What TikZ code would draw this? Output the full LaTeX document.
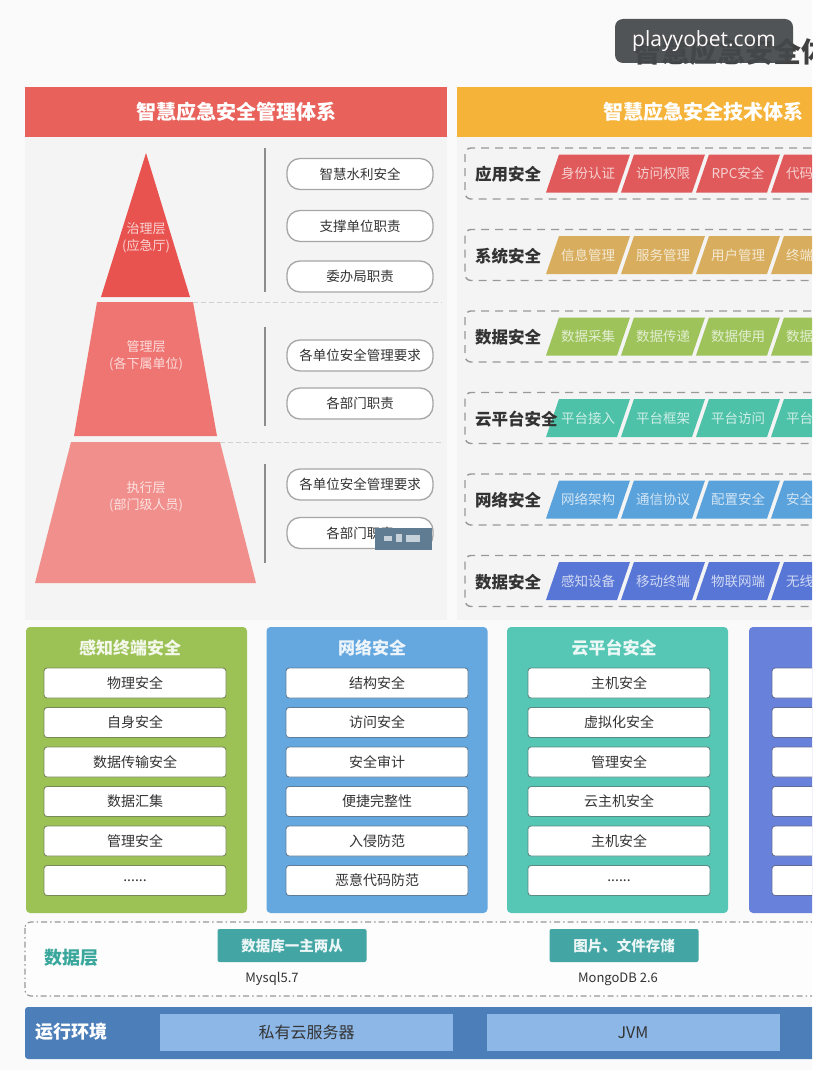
\documentclass[tikz,border=0pt]{standalone}
\usepackage{fontspec}
\setmainfont{Noto Sans CJK SC}
\newfontfamily\wmfont{Open Sans}
\newcommand\mysixdots{......}
\definecolor{pageBg}{HTML}{FAFAFA}
\definecolor{panelBg}{HTML}{F4F4F4}
\definecolor{hdrRed}{HTML}{E8615B}
\definecolor{hdrYel}{HTML}{F5B33A}
\definecolor{pyrA}{HTML}{E8524F}
\definecolor{pyrB}{HTML}{EE7572}
\definecolor{pyrC}{HTML}{F18F8C}
\definecolor{rowA}{HTML}{E05A5B}
\definecolor{rowB}{HTML}{D8AE5E}
\definecolor{rowC}{HTML}{9DC35A}
\definecolor{rowD}{HTML}{4EC2A8}
\definecolor{rowE}{HTML}{5AA2DB}
\definecolor{rowF}{HTML}{5876D5}
\definecolor{colG}{HTML}{9CC155}
\definecolor{colB}{HTML}{65A8E0}
\definecolor{colT}{HTML}{57C7B5}
\definecolor{colI}{HTML}{6882DC}
\definecolor{dbTeal}{HTML}{43A6A4}
\definecolor{dbText}{HTML}{3AA79C}
\definecolor{runBlue}{HTML}{4C7FB9}
\definecolor{runInner}{HTML}{8DB7E6}
\definecolor{wm}{HTML}{45484B}
\definecolor{wmBlue}{HTML}{5F7C92}
\definecolor{txt}{HTML}{333333}
\begin{document}
\begin{tikzpicture}[x=1pt,y=-1pt,
  hdrtxt/.style={text=white, font=\fontsize{20}{20}\selectfont\bfseries, inner sep=0pt},
  pill/.style={draw=black!35, line width=1.3pt, fill=white, rounded corners=13pt,
    minimum width=146pt, minimum height=31pt, inner sep=0pt, text=txt,
    font=\fontsize{13.5}{14}\selectfont},
  pyrtxt/.style={align=center, inner sep=0pt, font=\fontsize{13}{17}\selectfont},
  vline/.style={draw=black!45, line width=1.2pt},
  sepline/.style={draw=black!18, line width=0.8pt, dash pattern=on 5pt off 3pt},
  rowlabel/.style={anchor=west, text=txt, inner sep=0pt, font=\fontsize{16.5}{17}\selectfont\bfseries},
  celltxt/.style={inner sep=0pt, font=\fontsize{13.5}{14}\selectfont},
  rowbox/.style={draw=black!40, line width=1.4pt, dash pattern=on 8pt off 6pt, rounded corners=6pt},
  colbox/.style={rounded corners=4pt, minimum width=221pt, minimum height=286pt, inner sep=0pt},
  coltitle/.style={inner sep=0pt, font=\fontsize{17}{17}\selectfont\bfseries},
  item/.style={line width=0.9pt, fill=white, rounded corners=3pt, minimum width=182pt,
    minimum height=30pt, inner sep=0pt, text=txt, font=\fontsize{14}{14}\selectfont},
  dbbtn/.style={fill=dbTeal, rounded corners=2pt, minimum width=149pt, minimum height=33pt,
    inner sep=0pt, text=white!90!dbTeal, font=\fontsize{14.5}{15}\selectfont\bfseries},
  dbsub/.style={inner sep=0pt, text=txt, font=\fontsize{13}{13}\selectfont},
  runbox/.style={fill=runInner, minimum width=293pt, minimum height=37pt, inner sep=0pt,
    text=txt, font=\fontsize{16}{16}\selectfont}]
\useasboundingbox (0,0) rectangle (812,1070);
\clip (0,0) rectangle (812,1070);
\fill[pageBg] (0,0) rectangle (812,1070);

% ---------- title + watermark ----------
\node[anchor=west, inner sep=0pt, text=black!75, font=\fontsize{28}{28}\selectfont\bfseries] (title) at (633,52) {智慧应急安全体系};
\node[fill=wm, fill opacity=0.93, text opacity=1, rounded corners=8pt, minimum width=178pt, minimum height=44pt,
  inner sep=0pt, text=white!92!pink, font=\wmfont\fontsize{21}{21}\selectfont] (wmark) at (704,41) {playyobet.com};

% ---------- panels ----------
\fill[panelBg] (25,137) rectangle (447,620);
\fill[panelBg] (457,137) rectangle (812,620);
\node[fill=hdrRed, minimum width=422pt, minimum height=50pt, inner sep=0pt] (hdrL) at (236,112) {};
\node[hdrtxt] (hdrLt) at (236,112) {智慧应急安全管理体系};
\fill[hdrYel] (457,87) rectangle (900,137);
\node[hdrtxt] (hdrRt) at (703,112) {智慧应急安全技术体系};

% ---------- pyramid ----------
\fill[pyrA] (146,153) -- (190,297) -- (101,297) -- cycle;
\fill[pyrB] (97,302) -- (193,302) -- (217,436) -- (74,436) -- cycle;
\fill[pyrC] (71,442) -- (220,442) -- (256,583) -- (35,583) -- cycle;
\node[pyrtxt, text=white!75!pyrA] (gov) at (146,238) {治理层\\(应急厅)};
\node[pyrtxt, text=white!75!pyrB] (mgr) at (146,356) {管理层\\(各下属单位)};
\node[pyrtxt, text=white!75!pyrC] (exe) at (146,497) {执行层\\(部门级人员)};

\draw[sepline] (193,302) -- (442,302);
\draw[sepline] (220,442) -- (443,442);
\draw[vline] (265,148) -- (265,292);
\draw[vline] (265,327) -- (265,426);
\draw[vline] (265,464) -- (265,563);

\node[pill] (p1) at (360,174) {智慧水利安全};
\node[pill] (p2) at (360,226) {支撑单位职责};
\node[pill] (p3) at (360,276.5) {委办局职责};
\node[pill] (p4) at (360,355.5) {各单位安全管理要求};
\node[pill] (p5) at (360,403.5) {各部门职责};
\node[pill] (p6) at (360,484.5) {各单位安全管理要求};
\node[pill] (p7) at (360,533) {各部门职责};
\fill[wmBlue] (375,528) rectangle (432,550);
\fill[white!65!wmBlue] (384,536) rectangle (392,541);
\fill[white!65!wmBlue] (396,534) rectangle (402,542);
\fill[white!65!wmBlue] (406,535) rectangle (420,542);

% ---------- technical rows ----------
\foreach \lab/\col/\ta/\tb/\tc/\td [count=\i from 0] in {
  应用安全/rowA/身份认证/访问权限/RPC安全/代码安全,
  系统安全/rowB/信息管理/服务管理/用户管理/终端管理,
  数据安全/rowC/数据采集/数据传递/数据使用/数据存储,
  云平台安全/rowD/平台接入/平台框架/平台访问/平台管理,
  网络安全/rowE/网络架构/通信协议/配置安全/安全审计,
  数据安全/rowF/感知设备/移动终端/物联网端/无线网络}{
  \pgfmathsetmacro\yy{173.5+81.5*\i}
  \draw[rowbox] (465,\yy-25.5) rectangle (860,\yy+25.5);
  \foreach \t [count=\j from 0] in {\ta,\tb,\tc,\td}{
    \pgfmathsetmacro\xx{559+75*\j}
    \fill[\col] (\xx,\yy-19) -- (\xx+71,\yy-19) -- (\xx+58,\yy+19) -- (\xx-13,\yy+19) -- cycle;
    \node[celltxt, text=white!72!\col] (c\i-\j) at (\xx+29,\yy) {\t};
  }
  \node[rowlabel] (rl\i) at (475,\yy+1) {\lab};
}

% ---------- bottom columns ----------
\foreach \cx/\tx/\ix/\col/\ttl [count=\k] in {136.5/130/135/colG/感知终端安全, 377/372/377/colB/网络安全,
  617.5/614/619/colT/云平台安全, 859.5/860/863/colI/{}}{
  \node[colbox, fill=\col] (col\k) at (\cx,770) {};
  \node[coltitle, text=white!88!\col] (colt\k) at (\tx,648) {\ttl};
  \foreach \m in {0,1,2,3,4,5}{
    \node[item, draw=\col!55!black!80] (it\k-\m) at (\ix,683+39.5*\m) {};
  }
}
\foreach \t [count=\m from 0] in {物理安全,自身安全,数据传输安全,数据汇集,管理安全,\mysixdots}
  \node[item, draw=none, fill=none] (gt\m) at (135,683+39.5*\m) {\t};
\foreach \t [count=\m from 0] in {结构安全,访问安全,安全审计,便捷完整性,入侵防范,恶意代码防范}
  \node[item, draw=none, fill=none] (bt\m) at (377,683+39.5*\m) {\t};
\foreach \t [count=\m from 0] in {主机安全,虚拟化安全,管理安全,云主机安全,主机安全,\mysixdots}
  \node[item, draw=none, fill=none] (tt\m) at (619,683+39.5*\m) {\t};

% ---------- data layer ----------
\draw[draw=black!40, line width=1.2pt, fill=white!60!pageBg, rounded corners=6pt,
  dash pattern=on 6pt off 3pt on 1.5pt off 3pt] (25,922) rectangle (860,996);
\node[anchor=west, inner sep=0pt, text=dbText, font=\fontsize{18}{18}\selectfont\bfseries] (dbl) at (44,958) {数据层};
\node[dbbtn] (db1) at (292,945.5) {数据库一主两从};
\node[dbbtn] (db2) at (624,945.5) {图片、文件存储};
\node[dbsub] (dbs1) at (272,979) {Mysql5.7};
\node[dbsub] (dbs2) at (618,979) {MongoDB 2.6};

% ---------- run environment ----------
\fill[runBlue, rounded corners=3pt] (25,1007) rectangle (860,1059);
\node[anchor=west, inner sep=0pt, text=white, font=\fontsize{18}{18}\selectfont\bfseries] (rl) at (35,1032) {运行环境};
\node[runbox] (run1) at (306.5,1032.5) {私有云服务器};
\node[runbox] (run2) at (633,1032.5) {JVM};
\end{tikzpicture}
\end{document}
